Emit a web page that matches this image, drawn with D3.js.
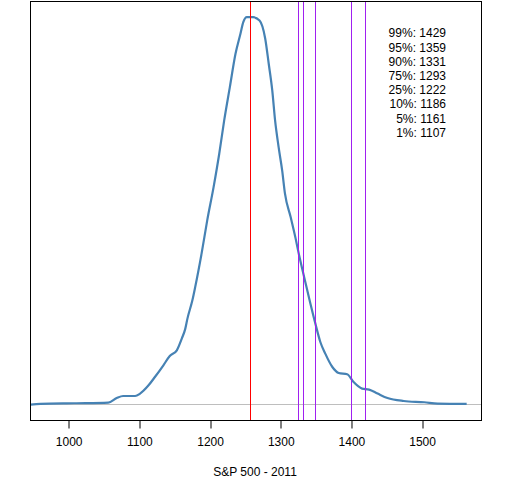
<!DOCTYPE html>
<html>
<head>
<meta charset="utf-8">
<script src="https://cdn.jsdelivr.net/npm/d3@7"></script>
<style>
  body { margin: 0; background: #fff; }
  text { font-family: "Liberation Sans", Arial, sans-serif; fill: #000; }
</style>
</head>
<body>
<div id="plot"></div>
<script>
var w = 512;
var h = 480;

// density curve: [S&P level, density]
var levels = [946, 960, 1008, 1056, 1068, 1077, 1094, 1101, 1113, 1122, 1134, 1143,
  1153, 1160, 1165, 1168, 1175, 1179, 1188, 1196, 1205, 1213, 1220, 1228, 1236,
  1243, 1247, 1252, 1261, 1270, 1278, 1283, 1288, 1292, 1297, 1302, 1306, 1314,
  1321, 1325, 1332, 1342, 1349, 1356, 1363, 1373, 1382, 1394, 1403, 1415, 1425,
  1437, 1451, 1474, 1503, 1522, 1563];
var density = [0.00001, 0.000026, 0.000044, 0.000062, 0.00018, 0.000232, 0.000232,
  0.000294, 0.000507, 0.000721, 0.001023, 0.001262, 0.001409, 0.00171, 0.001968,
  0.002226, 0.002697, 0.00304, 0.0039, 0.004758, 0.005616, 0.006476, 0.007334,
  0.008192, 0.009052, 0.009567, 0.009866, 0.009995, 0.009995, 0.00991, 0.009446,
  0.008795, 0.008107, 0.007334, 0.006646, 0.006046, 0.005446, 0.004843, 0.004294,
  0.003941, 0.003385, 0.002612, 0.002097, 0.001623, 0.001324, 0.000979, 0.000824,
  0.000791, 0.000592, 0.000422, 0.000397, 0.000294, 0.00018, 0.000103, 0.00007,
  0.000036, 0.000026];

// reference lines
var currentLevel = 1257;
var markLevels = [1325, 1332, 1349, 1400, 1420];

// quantile legend
var quantLabels = ["99%", "95%", "90%", "75%", "25%", "10%", "5%", "1%"];
var quantValues = [1429, 1359, 1331, 1293, 1222, 1186, 1161, 1107];

var xTicks = [1000, 1100, 1200, 1300, 1400, 1500];

var curve = levels.map((d, i) => [d, density[i]]);

var plotLeft = 30.5, plotRight = 481.5, plotTop = 1.5, plotBottom = 420.5;

var xScale = d3.scaleLinear().domain([946, 1584]).range([plotLeft, plotRight]);
var yScale = d3.scaleLinear().domain([-0.0004, 0.0104]).range([plotBottom, plotTop]);

var svg = d3.select("#plot").append("svg").attr("width", w).attr("height", h);

// snap 1px lines to pixel centres
var crisp = (v) => Math.round(v - 0.5) + 0.5;

// zero line
svg.append("line")
  .attr("x1", plotLeft).attr("x2", plotRight)
  .attr("y1", crisp(yScale(0))).attr("y2", crisp(yScale(0)))
  .attr("stroke", "#bebebe").attr("stroke-width", 1);

var line = d3.line()
  .curve(d3.curveMonotoneX)
  .x((d) => xScale(d[0]))
  .y((d) => yScale(d[1]));

svg.append("path")
  .datum(curve)
  .attr("d", line)
  .attr("fill", "none")
  .attr("stroke", "#4682b4")
  .attr("stroke-width", 2.2);

svg.selectAll("line.mark")
  .data(markLevels)
  .enter()
  .append("line")
  .attr("class", "mark")
  .attr("x1", (d) => crisp(xScale(d))).attr("x2", (d) => crisp(xScale(d)))
  .attr("y1", plotTop).attr("y2", plotBottom)
  .attr("stroke", "#a020f0").attr("stroke-width", 1);

svg.append("line")
  .attr("x1", crisp(xScale(currentLevel))).attr("x2", crisp(xScale(currentLevel)))
  .attr("y1", plotTop).attr("y2", plotBottom)
  .attr("stroke", "#ff0000").attr("stroke-width", 1);

// box
svg.append("rect")
  .attr("x", plotLeft).attr("y", plotTop)
  .attr("width", plotRight - plotLeft).attr("height", plotBottom - plotTop)
  .attr("fill", "none").attr("stroke", "#000").attr("stroke-width", 1);

// axis
var xAxis = d3.axisBottom(xScale)
  .tickValues(xTicks)
  .tickFormat(d3.format("d"))
  .tickSize(8)
  .tickPadding(9)
  .tickSizeOuter(0);
var gx = svg.append("g")
  .attr("transform", "translate(0," + plotBottom + ")")
  .call(xAxis);
gx.select(".domain").remove();
gx.selectAll("line").attr("x1", (d) => crisp(xScale(d)) - xScale(d)).attr("x2", (d) => crisp(xScale(d)) - xScale(d));
gx.selectAll("text").attr("font-size", "12px").attr("font-family", "Liberation Sans, Arial, sans-serif");

svg.append("text")
  .attr("x", 255).attr("y", 476)
  .attr("text-anchor", "middle")
  .attr("font-size", "12px")
  .text("S&P 500 - 2011");

svg.selectAll("text.quant")
  .data(quantLabels)
  .enter()
  .append("text")
  .attr("class", "quant")
  .attr("x", 446)
  .attr("y", (d, i) => 37.3 + i * 14.2)
  .attr("text-anchor", "end")
  .attr("font-size", "12px")
  .text((d, i) => d + ": " + quantValues[i]);
</script>
</body>
</html>
